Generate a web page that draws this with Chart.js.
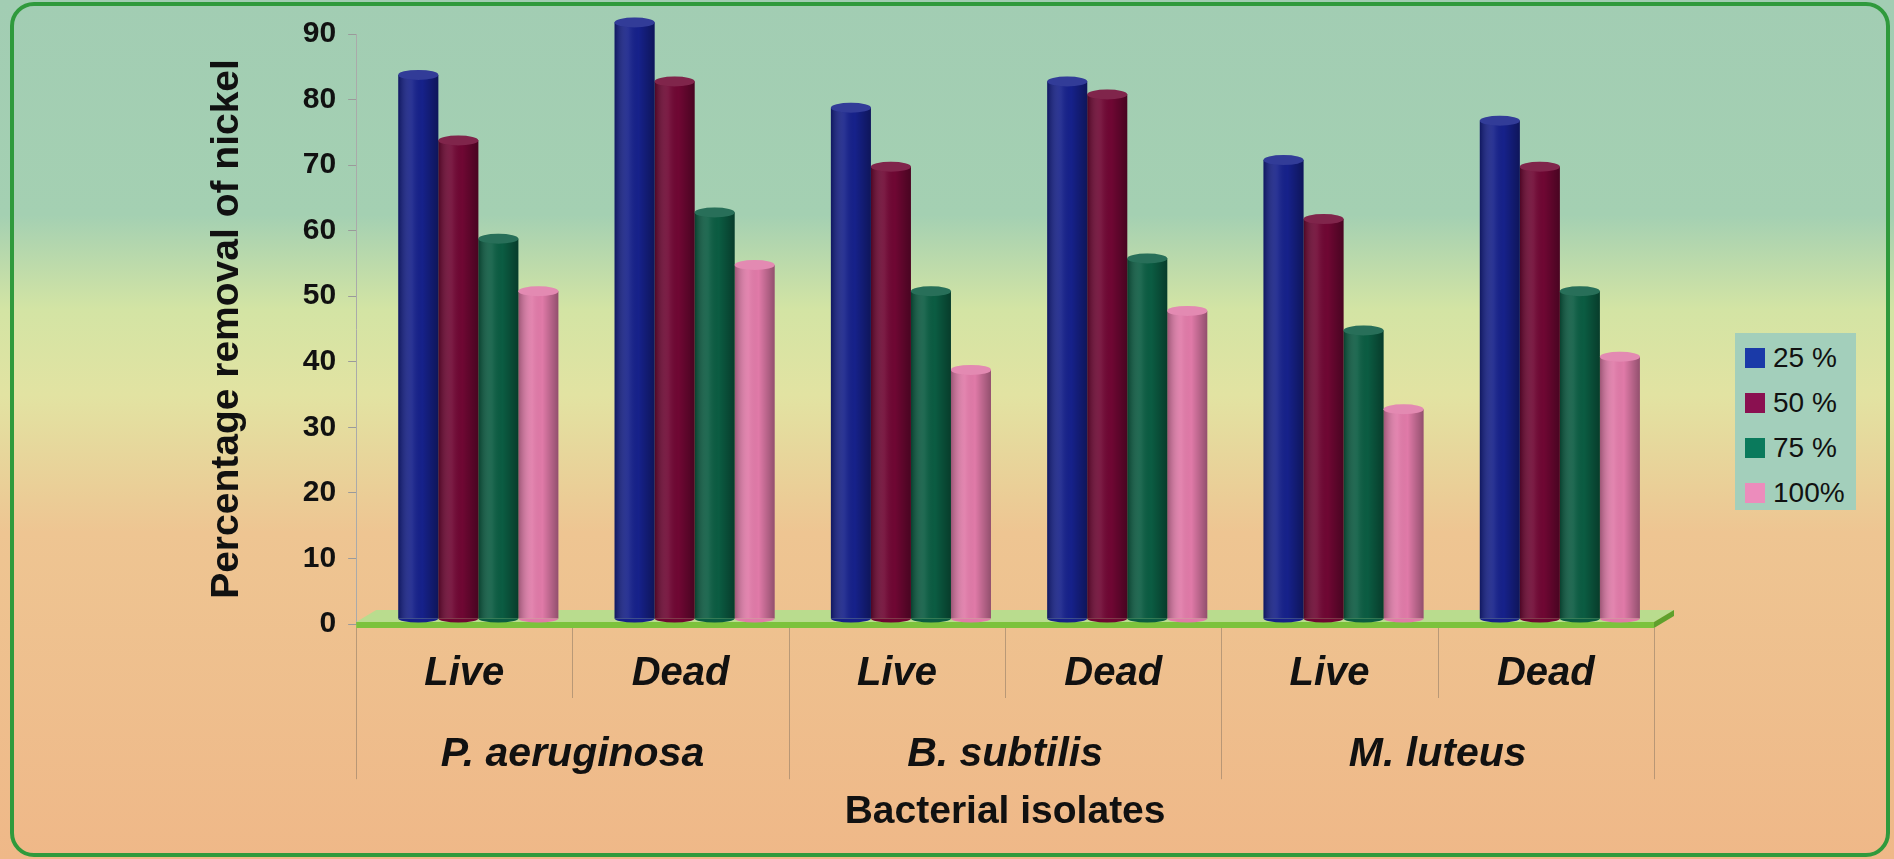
<!DOCTYPE html>
<html>
<head>
<meta charset="utf-8">
<script src="https://cdn.jsdelivr.net/npm/chart.js@4.4.1/dist/chart.umd.min.js"></script>
<style>
  body { margin: 0; background: #fff; }
  #wrap { position: relative; width: 1894px; height: 859px; }
  #legend {
    position: absolute; left: 1735px; top: 333px; width: 121px; height: 177px;
    background: #a3cfbb; box-sizing: border-box; padding: 2px 0 0 10px;
    font-family: 'Liberation Sans', Arial, sans-serif; font-size: 28px; color: #111;
  }
  .item { display: flex; align-items: center; height: 45px; }
  .sw { width: 20px; height: 20px; margin-right: 8px; }
</style>
</head>
<body>
<div id="wrap">
  <canvas id="chart"></canvas>
  <div id="legend"></div>
</div>
<script>
// data
const conditions = ["Live", "Dead", "Live", "Dead", "Live", "Dead"];
const isolates = ["P. aeruginosa", "B. subtilis", "M. luteus"];
const seriesNames = ["25 %", "50 %", "75 %", "100%"];
const conc25 = [83, 91, 78, 82, 70, 76];
const conc50 = [73, 82, 69, 80, 61, 69];
const conc75 = [58, 62, 50, 55, 44, 50];
const conc100 = [50, 54, 38, 47, 32, 40];
const yMax = 90;
const yStep = 10;

const barColors = ["#16218a", "#6f0733", "#0b5c42", "#e07aa8"];
const legendColors = ["#1a3aa8", "#8a1050", "#0a7a5c", "#ec8cbc"];
const FONT = "'Liberation Sans', Arial, sans-serif";

// background gradient + green frame
const backdrop = {
  id: "backdrop",
  beforeDraw(chart) {
    const { ctx, width, height } = chart;
    const g = ctx.createLinearGradient(0, 0, 0, height);
    g.addColorStop(0, "#a2cdb3");
    g.addColorStop(0.25, "#a4d0b2");
    g.addColorStop(0.36, "#d3e4a4");
    g.addColorStop(0.46, "#e2e3a2");
    g.addColorStop(0.62, "#eec592");
    g.addColorStop(1, "#efb888");
    ctx.save();
    ctx.fillStyle = g;
    ctx.fillRect(0, 0, width, height);
    ctx.restore();
  },
  afterDraw(chart) {
    const { ctx, width, height } = chart;
    ctx.save();
    ctx.strokeStyle = "#2f9a3c";
    ctx.lineWidth = 4;
    ctx.beginPath();
    ctx.roundRect(12, 4, width - 18, height - 8, 22);
    ctx.stroke();
    ctx.restore();
  }
};

// green floor under the bars
const floor = {
  id: "floor",
  beforeDatasetsDraw(chart) {
    const { ctx, chartArea } = chart;
    const l = chartArea.left, r = chartArea.right, b = chartArea.bottom;
    const d = 20;
    ctx.save();
    ctx.fillStyle = "#b9dc8e";
    ctx.beginPath();
    ctx.moveTo(l, b - 2);
    ctx.lineTo(l + d, b - 14);
    ctx.lineTo(r + d, b - 14);
    ctx.lineTo(r, b - 2);
    ctx.closePath();
    ctx.fill();
    ctx.fillStyle = "#7cc23c";
    ctx.fillRect(l, b - 2, r - l, 6);
    ctx.fillStyle = "#5fa02c";
    ctx.beginPath();
    ctx.moveTo(r, b - 2);
    ctx.lineTo(r + d, b - 14);
    ctx.lineTo(r + d, b - 8);
    ctx.lineTo(r, b + 4);
    ctx.closePath();
    ctx.fill();
    ctx.restore();
  }
};

// cylinder look: shift back onto the floor, shade and cap every bar
const cylinders = {
  id: "cylinders",
  beforeDatasetsDraw(chart) {
    chart.ctx.save();
    chart.ctx.translate(14, -5);
  },
  afterDatasetsDraw(chart) {
    const ctx = chart.ctx;
    chart.data.datasets.forEach((ds, di) => {
      const meta = chart.getDatasetMeta(di);
      meta.data.forEach((bar) => {
        const w = bar.width, x0 = bar.x - w / 2;
        const g = ctx.createLinearGradient(x0, 0, x0 + w, 0);
        g.addColorStop(0, "rgba(0,0,0,0.3)");
        g.addColorStop(0.35, "rgba(255,255,255,0.08)");
        g.addColorStop(0.6, "rgba(0,0,0,0)");
        g.addColorStop(1, "rgba(0,0,0,0.35)");
        ctx.fillStyle = g;
        ctx.fillRect(x0, bar.y, w, bar.base - bar.y);
        // rounded bottom
        ctx.fillStyle = ds.backgroundColor;
        ctx.beginPath();
        ctx.ellipse(bar.x, bar.base, w / 2, 4, 0, 0, Math.PI);
        ctx.fill();
        // top cap
        ctx.beginPath();
        ctx.ellipse(bar.x, bar.y, w / 2, 5, 0, 0, Math.PI * 2);
        ctx.fillStyle = ds.backgroundColor;
        ctx.fill();
        ctx.fillStyle = "rgba(255,255,255,0.12)";
        ctx.fill();
      });
    });
    ctx.restore();
  }
};

// divider lines in the two label rows, down to the bottom of each label row
const dividers = {
  id: "dividers",
  afterDraw(chart) {
    const { ctx, chartArea } = chart;
    const x = chart.scales.x, x2 = chart.scales.x2;
    const rowEnd = (s) => s.top + s.options.ticks.padding + s.options.ticks.font.size * 1.2;
    ctx.save();
    ctx.strokeStyle = "rgba(140,120,100,0.55)";
    ctx.lineWidth = 1;
    const n = x.ticks.length;
    const step = (x.right - x.left) / n;
    for (let i = 0; i <= n; i++) {
      const px = Math.round(x.left + i * step) + 0.5;
      const bottom = (i % 2 === 0) ? rowEnd(x2) : rowEnd(x);
      ctx.beginPath();
      ctx.moveTo(px, chartArea.bottom + 4);
      ctx.lineTo(px, bottom);
      ctx.stroke();
    }
    ctx.restore();
  }
};

const datasets = [conc25, conc50, conc75, conc100].map((vals, i) => ({
  label: seriesNames[i],
  data: vals,
  backgroundColor: barColors[i],
  borderWidth: 0,
  categoryPercentage: 0.74,
  barPercentage: 1.0,
  clip: false
}));

const chart = new Chart(document.getElementById("chart"), {
  type: "bar",
  data: { labels: conditions, datasets: datasets },
  options: {
    responsive: true,
    maintainAspectRatio: false,
    animation: false,
    layout: { padding: { left: 190, top: 34, right: 240, bottom: 21 } },
    plugins: { legend: { display: false }, tooltip: { enabled: false } },
    scales: {
      y: {
        min: 0,
        max: yMax,
        ticks: { stepSize: yStep, color: "#111", padding: 12, font: { family: FONT, size: 30, weight: "bold" } },
        grid: { drawOnChartArea: false, tickLength: 8, color: "#9a9a9a" },
        border: { color: "#aaa", dash: [3, 3] },
        title: {
          display: true,
          text: "Percentage removal of nickel",
          color: "#111",
          font: { family: FONT, size: 39, weight: "bold" },
          padding: { top: 14, bottom: 40 }
        }
      },
      x: {
        weight: 1,
        grid: { display: false, drawTicks: false },
        border: { display: false },
        ticks: { color: "#111", padding: 26, maxRotation: 0, autoSkip: false, font: { family: FONT, size: 40, weight: "bold", style: "italic" } }
      },
      x2: {
        type: "category",
        labels: isolates,
        position: "bottom",
        weight: 2,
        offset: true,
        grid: { display: false, drawTicks: false },
        border: { display: false },
        ticks: { color: "#111", padding: 6, maxRotation: 0, autoSkip: false, font: { family: FONT, size: 41, weight: "bold", style: "italic" } },
        title: {
          display: true,
          text: "Bacterial isolates",
          color: "#111",
          font: { family: FONT, size: 39, weight: "bold" },
          padding: { top: 4, bottom: 2 }
        }
      }
    }
  },
  plugins: [backdrop, floor, cylinders, dividers]
});

// legend box from the datasets
const legendEl = document.getElementById("legend");
chart.data.datasets.forEach((ds, i) => {
  const item = document.createElement("div");
  item.className = "item";
  const sw = document.createElement("span");
  sw.className = "sw";
  sw.style.background = legendColors[i];
  const txt = document.createElement("span");
  txt.textContent = ds.label;
  item.appendChild(sw);
  item.appendChild(txt);
  legendEl.appendChild(item);
});
</script>
</body>
</html>
